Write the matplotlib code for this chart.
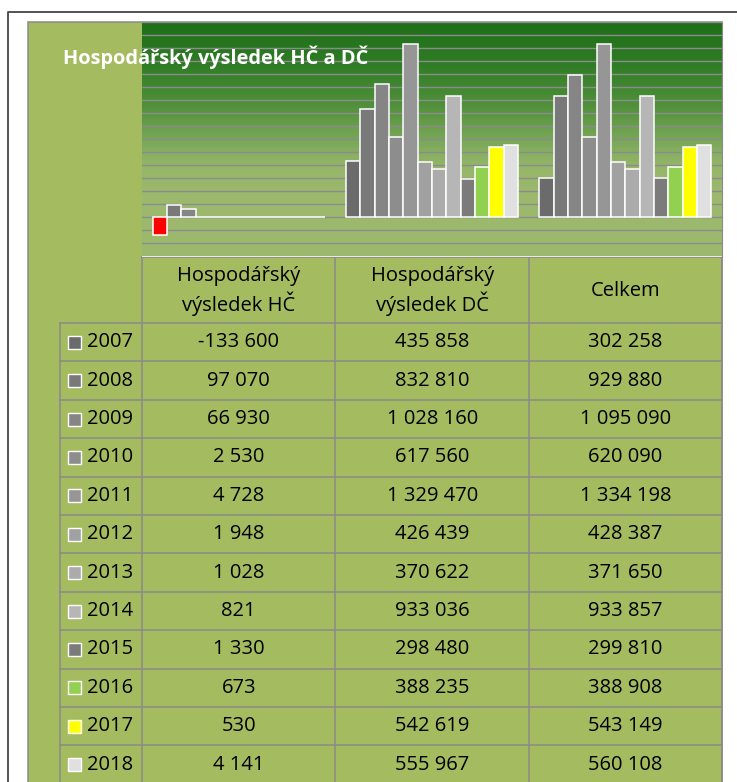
import numpy as np
import matplotlib
matplotlib.use("Agg")
import matplotlib.pyplot as plt
from matplotlib.patches import Rectangle
from matplotlib.colors import LinearSegmentedColormap

# ---------------- data ----------------
title = "Hospodářský výsledek HČ a DČ"
categories = ["Hospodářský\nvýsledek HČ", "Hospodářský\nvýsledek DČ", "Celkem"]
years = ["2007", "2008", "2009", "2010", "2011", "2012", "2013", "2014", "2015", "2016", "2017", "2018"]
hc = [-133600, 97070, 66930, 2530, 4728, 1948, 1028, 821, 1330, 673, 530, 4141]
dc = [435858, 832810, 1028160, 617560, 1329470, 426439, 370622, 933036, 298480, 388235, 542619, 555967]
celkem = [302258, 929880, 1095090, 620090, 1334198, 428387, 371650, 933857, 299810, 388908, 543149, 560108]

# ---------------- style ----------------
year_colors = ["#6b6b6b", "#797979", "#858585", "#8d8d8d", "#969696", "#a1a1a1",
               "#ababab", "#b6b6b6", "#7b7b7b", "#92d050", "#ffff00", "#e0e0e0"]
neg_color = "#ff0000"
area_green = "#a5bb60"
grid_col = "#8c8c8c"
FONT = ["Open Sans", "DejaVu Sans"]

W, H = 737, 782
fig = plt.figure(figsize=(W / 100, H / 100), dpi=100)
fig.patch.set_facecolor("white")

# pixel-coordinate canvas
cv = fig.add_axes([0, 0, 1, 1])
cv.set_xlim(0, W)
cv.set_ylim(H, 0)
cv.axis("off")
cv.set_zorder(0)

# outer frame
cv.plot([8, 8, W + 5], [H + 5, 12, 12], color="#454545", lw=1.3, solid_capstyle="butt")
# chart area
cv.add_patch(Rectangle((28, 22), 722 - 28, H + 10 - 22, facecolor=area_green,
                       edgecolor="#8a8a8a", lw=1.1))

# plot area geometry (pixels)
px0, px1 = 142, 722
py0, py1 = 22.3, 256.5
ax = fig.add_axes([px0 / W, 1 - py1 / H, (px1 - px0) / W, (py1 - py0) / H])
ax.set_zorder(1)
ymin, ymax = -300000, 1500000
x0, x1 = -0.5, len(categories) - 0.5

# gradient background (0 = top, 1 = bottom)
cmap = LinearSegmentedColormap.from_list(
    "g", [(0.0, "#1e6e18"), (0.18, "#2f7c25"), (0.35, "#4f8f3a"),
          (0.50, "#77a657"), (0.62, "#95b669"), (0.72, "#9bb86d"), (1.0, "#9cb96e")])
grad = np.linspace(1, 0, 256).reshape(-1, 1)
ax.imshow(grad, aspect="auto", cmap=cmap, vmin=0, vmax=1,
          extent=(x0, x1, ymin, ymax), origin="lower", zorder=0)
ax.set_ylim(ymin, ymax)
ax.set_xlim(x0, x1)

for gy in np.arange(ymin, ymax + 1, 100000):
    ax.axhline(gy, color=grid_col, lw=1.0, zorder=1)

for s in ax.spines.values():
    s.set_visible(False)
ax.spines["right"].set_visible(True)
ax.spines["right"].set_color("#8a8a8a")
ax.set_xticks([])
ax.set_yticks([])

series = [hc, dc, celkem]
n = len(years)
bw = 1.0 / (n + 1.5)
for j in range(n):
    xs = [i - n * bw / 2 + (j + 0.5) * bw for i in range(len(categories))]
    vals = [series[i][j] for i in range(len(categories))]
    cols = [neg_color if v < 0 else year_colors[j] for v in vals]
    ax.bar(xs, vals, width=bw, color=cols, edgecolor="white", linewidth=1.1, zorder=3)

# overlay for title (above plot area)
ov = fig.add_axes([0, 0, 1, 1])
ov.set_xlim(0, W)
ov.set_ylim(H, 0)
ov.axis("off")
ov.set_zorder(2)
ov.text(63, 57, title, color="white", fontsize=14.4, fontweight="bold",
        family=FONT, ha="left", va="center")

# ---------------- data table ----------------
col_x = [142, 335.5, 528.8, 722]
lab_x0 = 60
hdr_top, hdr_bot = 257, 323
row_h = 38.4
lc = "#8a8a8a"
lw = 1.1
fs = 14.5

cv.plot([col_x[0], col_x[-1]], [hdr_top, hdr_top], color=lc, lw=lw)
for cx in col_x:
    cv.plot([cx, cx], [hdr_top, H + 5], color=lc, lw=lw)
cv.plot([lab_x0, lab_x0], [hdr_bot, H + 5], color=lc, lw=lw)
for i, cat in enumerate(categories):
    cx = (col_x[i] + col_x[i + 1]) / 2
    cv.text(cx, (hdr_top + hdr_bot) / 2 + 1, cat, ha="center", va="center",
            fontsize=fs, family=FONT, color="black", linespacing=1.25)

for r, yr in enumerate(years):
    y0 = hdr_bot + r * row_h
    cv.plot([lab_x0, col_x[-1]], [y0, y0], color=lc, lw=lw)
    yc = y0 + row_h / 2
    cv.add_patch(Rectangle((68, yc - 6.5), 13, 13, facecolor=year_colors[r],
                           edgecolor="white", lw=1.0))
    cv.text(87, yc, yr, ha="left", va="center", fontsize=fs, family=FONT, color="black")
    for i in range(len(categories)):
        v = series[i][r]
        txt = f"{v:,}".replace(",", " ")
        cx = (col_x[i] + col_x[i + 1]) / 2
        cv.text(cx, yc, txt, ha="center", va="center", fontsize=fs, family=FONT, color="black")

fig.savefig("out.png", dpi=100)
